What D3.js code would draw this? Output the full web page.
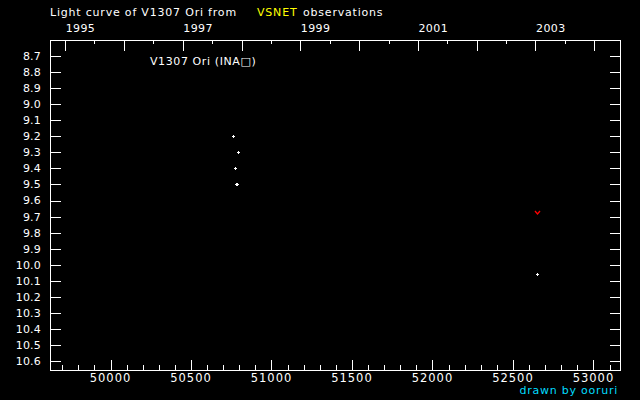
<!DOCTYPE html>
<html>
<head>
<meta charset="utf-8">
<script src="https://cdn.jsdelivr.net/npm/d3@7"></script>
<style>
  html, body { margin: 0; padding: 0; background: #000; }
  svg { display: block; }
  text { font-family: "DejaVu Sans", sans-serif; fill: #fff; }
</style>
</head>
<body>
<svg id="chart" width="640" height="400"></svg>
<script>
// ---- data ----
const obsMJD = [50762, 50793, 50775, 50777, 50783, 52652];
const obsMag = [9.20, 9.30, 9.40, 9.50, 9.50, 10.06];
const limMJD = [52647];          // fainter-than (red) observations
const limMag = [9.67];
const magTicks = [8.7, 8.8, 8.9, 9.0, 9.1, 9.2, 9.3, 9.4, 9.5, 9.6, 9.7, 9.8, 9.9,
                  10.0, 10.1, 10.2, 10.3, 10.4, 10.5, 10.6];
const mjdMajor = [50000, 50500, 51000, 51500, 52000, 52500, 53000];
const years = [1995, 1996, 1997, 1998, 1999, 2000, 2001, 2002, 2003, 2004];
const yearLabels = [1995, 1997, 1999, 2001, 2003];
const starName = "V1307 Ori (INA\u25A1)";

// ---- layout ----
const L = 50, R = 620, T = 40, B = 370;
const svg = d3.select("#chart");
svg.append("rect").attr("width", 640).attr("height", 400).attr("fill", "#000");

const x = d3.scaleLinear().domain([49624, 53165]).range([L, R]);
const y = d3.scaleLinear().domain([8.6, 10.656]).range([T, B]);

const toMJD = (yr, mo, dy) => (Date.UTC(yr, mo, dy) - Date.UTC(1858, 10, 17)) / 86400000;

const g = svg.append("g");
const px = v => Math.round(v) + 0.5;

// frame
g.append("rect").attr("x", L + 0.5).attr("y", T + 0.5)
  .attr("width", R - L).attr("height", B - T)
  .attr("fill", "none").attr("stroke", "#fff").attr("stroke-width", 1);

// y ticks (both sides) and labels
magTicks.forEach(m => {
  const yy = px(y(m));
  g.append("line").attr("x1", L).attr("x2", L + 11).attr("y1", yy).attr("y2", yy)
    .attr("stroke", "#fff");
  g.append("line").attr("x1", R - 10).attr("x2", R + 1).attr("y1", yy).attr("y2", yy)
    .attr("stroke", "#fff");
  g.append("text").attr("x", 41).attr("y", y(m)).attr("dy", "0.36em")
    .attr("text-anchor", "end").attr("font-size", 11)
    .attr("letter-spacing", 0.2)
    .text(d3.format(".1f")(m));
});

// bottom ticks: minor every 100 days, major every 500
const minor = d3.range(49700, 53200, 100).filter(v => x(v) > L && x(v) < R);
minor.forEach(v => {
  const isMajor = mjdMajor.includes(v);
  const xx = px(x(v));
  g.append("line").attr("x1", xx).attr("x2", xx)
    .attr("y1", B - (isMajor ? 10 : 5)).attr("y2", B)
    .attr("stroke", "#fff");
});
mjdMajor.forEach(v => {
  g.append("text").attr("x", x(v)).attr("y", 382)
    .attr("text-anchor", "middle").attr("font-size", 11.5)
    .attr("letter-spacing", 1)
    .text(v);
});

// top ticks: years and half years
years.forEach(yr => {
  const xm = x(toMJD(yr, 0, 1));
  if (xm > L && xm < R) {
    const xx = px(xm);
    g.append("line").attr("x1", xx).attr("x2", xx).attr("y1", T).attr("y2", T + 11)
      .attr("stroke", "#fff");
  }
  const xh = x(toMJD(yr, 6, 2));
  if (xh > L && xh < R) {
    const xx = px(xh);
    g.append("line").attr("x1", xx).attr("x2", xx).attr("y1", T).attr("y2", T + 4)
      .attr("stroke", "#fff");
  }
});
yearLabels.forEach(yr => {
  g.append("text").attr("x", x(toMJD(yr, 0, 1)) + 0.5).attr("y", 32)
    .attr("font-size", 11).attr("letter-spacing", 0.4)
    .text(yr);
});

// title
const title = svg.append("text").attr("x", 50).attr("y", 16).attr("font-size", 11)
  .attr("letter-spacing", 0.8);
title.append("tspan").text("Light curve of V1307 Ori from");
title.append("tspan").attr("x", 257).style("fill", "#ffff00").text("VSNET");
title.append("tspan").attr("x", 303).text("observations");

// star name inside plot
svg.append("text").attr("x", 150).attr("y", 65).attr("font-size", 11)
  .attr("letter-spacing", 0.6).text(starName);

// credit
svg.append("text").attr("x", 618).attr("y", 394).attr("text-anchor", "end")
  .attr("font-size", 11).attr("letter-spacing", 0.75)
  .style("fill", "#00ddff").text("drawn by ooruri");

// observations (white plus)
obsMJD.forEach((m, i) => {
  const cx = Math.round(x(m)), cy = Math.round(y(obsMag[i]));
  g.append("rect").attr("x", cx - 1).attr("y", cy).attr("width", 3).attr("height", 1).attr("fill", "#fff");
  g.append("rect").attr("x", cx).attr("y", cy - 1).attr("width", 1).attr("height", 3).attr("fill", "#fff");
});

// fainter-than observations (red v)
limMJD.forEach((m, i) => {
  const cx = Math.round(x(m)) + 0.5, cy = Math.round(y(limMag[i])) + 0.5;
  g.append("path")
    .attr("d", `M${cx - 2.5},${cy - 1.5}L${cx},${cy + 1.5}L${cx + 2.5},${cy - 1.5}`)
    .attr("fill", "none").attr("stroke", "#ff0000").attr("stroke-width", 1.3);
});
</script>
</body>
</html>
